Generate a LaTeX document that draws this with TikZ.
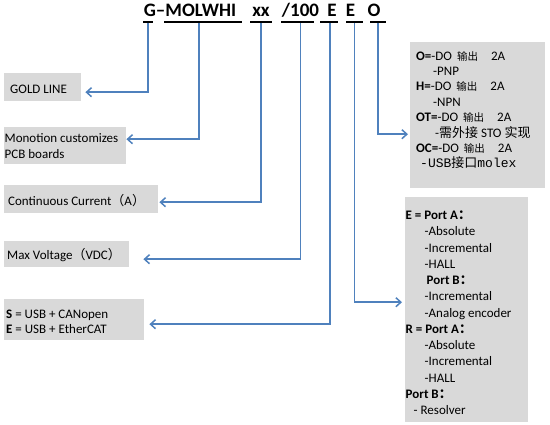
\documentclass[tikz,border=0pt]{standalone}
\usepackage{fontspec}
\setmainfont{Carlito}
\newfontfamily\cjk{Noto Sans CJK SC}
\newfontfamily\monofont{Liberation Mono}
\usetikzlibrary{arrows.meta}
\definecolor{boxgray}{RGB}{217,217,217}
\definecolor{linkblue}{RGB}{79,129,189}

\begin{document}
\begin{tikzpicture}
	[x=1pt,y=-1pt,every node/.style={inner sep=0pt, text=black}]
	\tikzstyle{title} = [font=\fontsize{19}{21}\selectfont\bfseries, anchor=base];
	\tikzstyle{uline} = [fill=black, minimum height=1.3pt];
	\tikzstyle{panel} = [fill=boxgray, anchor=north west];
	\tikzstyle{note} = [anchor=west, align=left, font=\fontsize{13}{16}\selectfont];
	\tikzstyle{edges} = [draw=linkblue, line width=1.5pt, -{Straight Barb[length=5pt,width=9pt]}];

	\useasboundingbox (0,0) rectangle (550,424);

	% part number
	\node[title] (t1) at (190,16.5) {G–MOLWHI};
	\node[title] (t2) at (261,16.5) {xx};
	\node[title] (t3) at (300.5,16.5) {/100};
	\node[title] (t4) at (332,16.5) {E};
	\node[title] (t5) at (350.5,16.5) {E};
	\node[title] (t6) at (374,16.5) {O};

	\node[uline, minimum width=10] (u1) at (148,22) {};
	\node[uline, minimum width=78] (u2) at (203,22) {};
	\node[uline, minimum width=22] (u3) at (261,22) {};
	\node[uline, minimum width=33] (u4) at (297.5,22) {};
	\node[uline, minimum width=18] (u5) at (329,22) {};
	\node[uline, minimum width=17] (u6) at (354.5,22) {};
	\node[uline, minimum width=16] (u7) at (378,22) {};

	% boxes
	\node[panel, minimum width=77, minimum height=28] (b1) at (4,73) {};
	\node[panel, minimum width=122, minimum height=37] (b2) at (4,127) {};
	\node[panel, minimum width=154, minimum height=28] (b3) at (4,185) {};
	\node[panel, minimum width=125, minimum height=26] (b4) at (4,241) {};
	\node[panel, minimum width=140, minimum height=41] (b5) at (4,299) {};
	\node[panel, minimum width=135, minimum height=146] (b6) at (410,42) {};
	\node[panel, minimum width=123, minimum height=225] (b7) at (405,197) {};

	\node[note] (n1) at ([xshift=6,yshift=-2]b1.west) {GOLD LINE};
	\node[note] (n2) at ([xshift=0.5]b2.west) {Monotion customizes\\PCB boards};
	\node[note] (n3) at ([xshift=4,yshift=-1.5]b3.west) {Continuous Current{\cjk （}A{\cjk ）}};
	\node[note] (n4) at ([xshift=3,yshift=-1]b4.west) {Max Voltage{\cjk （}VDC{\cjk ）}};
	\node[note, font=\fontsize{13}{15}\selectfont] (n5) at ([xshift=2,yshift=-2]b5.west)
		{\textbf{S} = USB + CANopen\\\textbf{E} = USB + EtherCAT};
	\node[note, font=\fontsize{13}{15.4}\selectfont] (n6) at ([xshift=6,yshift=5]b6.west)
		{\textbf{O=}-DO\hspace{5pt}{\cjk\fontsize{10.5}{10}\selectfont 输出}\hspace{13pt}2A\\
		\hspace*{17pt}-PNP\\
		\textbf{H=}-DO\hspace{5pt}{\cjk\fontsize{10.5}{10}\selectfont 输出}\hspace{13pt}2A\\
		\hspace*{17pt}-NPN\\
		\textbf{OT=}-DO\hspace{5pt}{\cjk\fontsize{10.5}{10}\selectfont 输出}\hspace{13pt}2A\\
		\hspace*{19pt}-{\cjk 需外接} STO {\cjk 实现}\\
		\textbf{OC=}-DO\hspace{5pt}{\cjk\fontsize{10.5}{10}\selectfont 输出}\hspace{13pt}2A\\
		\hspace*{4pt}{\monofont -USB}{\cjk 接口}{\monofont molex}};
	\node[note, font=\fontsize{13}{16.25}\selectfont] (n7) at ([xshift=0.5,yshift=-3]b7.west)
		{\textbf{E = Port A{\cjk ：}}\\
		\hspace*{19pt}-Absolute\\
		\hspace*{19pt}-Incremental\\
		\hspace*{19pt}-HALL\\
		\hspace*{21pt}\textbf{Port B{\cjk ：}}\\
		\hspace*{19pt}-Incremental\\
		\hspace*{19pt}-Analog encoder\\
		\textbf{R = Port A{\cjk ：}}\\
		\hspace*{19pt}-Absolute\\
		\hspace*{19pt}-Incremental\\
		\hspace*{19pt}-HALL\\
		\textbf{Port B{\cjk ：}}\\
		\hspace*{8pt}- Resolver};

	% connectors
	\draw[edges] (u1) |- ([xshift=4,yshift=-5]b1.east);
	\draw[edges] ([xshift=-4]u2.south) |- ([yshift=6.5]b2.east);
	\draw[edges] (u3) |- ([xshift=1,yshift=-3]b3.east);
	\draw[edges] ([xshift=3]u4.south) |- ([xshift=14,yshift=-5]b4.east);
	\draw[edges] ([xshift=1]u5.south) |- ([xshift=5,yshift=-4.5]b5.east);
	\draw[edges] (u6) |- ([xshift=-3,yshift=7.5]b7.west);
	\draw[edges] (u7) |- ([xshift=-2,yshift=-19]b6.west);
\end{tikzpicture}
\end{document}
